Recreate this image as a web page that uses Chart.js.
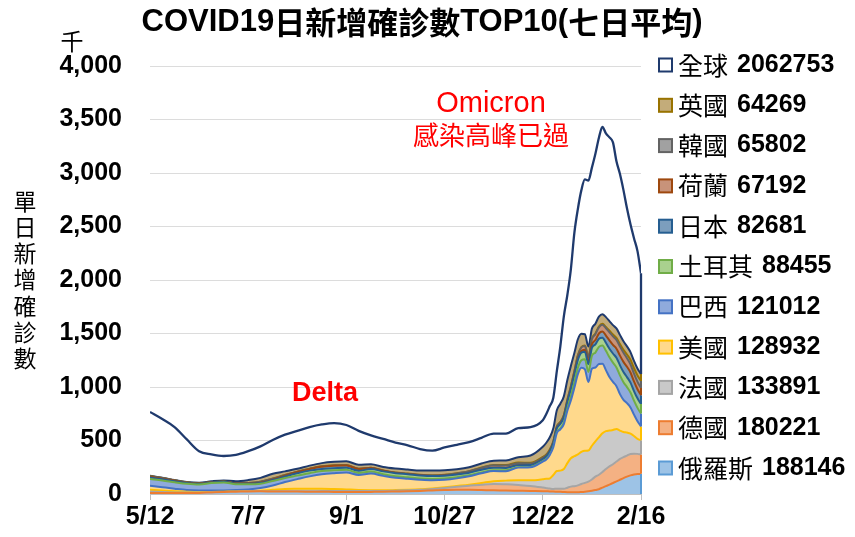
<!DOCTYPE html>
<html>
<head>
<meta charset="utf-8">
<script src="https://cdn.jsdelivr.net/npm/chart.js@4.4.1/dist/chart.umd.min.js"></script>
<style>
html,body{margin:0;padding:0;background:#fff;}
#wrap{width:855px;height:537px;position:relative;}
canvas{display:block;}
</style>
</head>
<body>
<div id="wrap"><canvas id="c" width="855" height="537"></canvas></div>
<script>
// ---------- DATA (thousands, 7-day average) ----------
// day offsets from 5/12/2021
const days = [0,7,14,21,28,35,42,49,56,63,70,77,84,91,98,105,112,119,126,133,140,147,154,161,168,175,182,189,196,203,210,217,224,
  226,228,230,232,234,236,238,240,242,244,246,248,250,252,254,256,258,260,262,264,266,268,270,272,274,276,278,280];
const tickDays = [0,56,112,168,224,280];
const tickLabels = ['5/12','7/7','9/1','10/27','12/22','2/16'];

const russia = [8.5,8.4,8.6,9.0,10.5,14.5,18.5,21,24,25,24,23.5,22.2,21.6,21,19.5,18.5,18,19.5,21,23.5,26,29,33,37,40,39.5,37,34,33,30.5,28,26,
  25,24.5,22.5,21.5,20.5,18.5,16.5,16,16,16.5,19,22,26,31,37,45,60,73,88,103,118,133,148,162,174,182,187,188.1];
const germany = [13,10.5,6.5,4,2.8,1.3,0.7,0.6,0.7,1.0,1.5,2.0,2.6,4.0,6.5,9,10,10.5,8.5,7.5,7.8,8.5,10,14,19,27,38,50,60,57,53,47,34,
  30,26,25,28,28,30,42,53,57,64,75,82,90,105,125,135,145,160,170,175,185,195,197,197,200,195,188,180.2];
const france = [18.5,14,11,8,5,3.5,2.5,2.4,3.0,5,14,22,24,24,22,18,14,10,7.5,6,5,4.5,4.5,5,6.5,8,10,16,25,35,45,53,78,
  88,95,130,165,170,185,230,265,280,290,300,300,290,315,330,350,362,355,335,320,305,265,235,215,190,165,140,133.9];
const usa = [38,31,24,17,14.5,12.5,11.5,12.5,15,25,40,64,90,115,135,148,158,140,155,135,115,103,90,77,70,71,78,90,95,88,118,122,165,
  180,220,260,355,385,420,490,540,640,750,785,760,640,720,690,685,650,570,500,450,400,340,300,275,245,200,165,128.9];
const brazil = [62,63,60,57,55,70,75,55,48,40,42,38,33,30,30,27,25,18,20,16,15,14,11,11,12,11,9,9,9,9,3,3.5,3.5,
  3.5,3.5,4,6,10,15,20,40,50,60,70,95,95,120,140,160,170,180,185,180,175,175,165,150,140,130,125,121];
const turkey = [14,10,8.5,7,6,5.5,5.3,5.2,5.5,7,8.5,14,22,24,20,19,20,21,23,26,28,29,29,28,27,26,25,24,23,22,20,17,20,
  24,28,33,37,40,48,58,65,70,72,72,70,72,75,77,75,73,75,80,85,90,95,95,93,92,90,89,88.5];
const japan = [6.3,6.2,4.7,3.5,2.5,1.6,1.5,1.7,2.0,2.8,4.0,7.5,11,14,20,24,22,15.5,9,5,2.5,1.2,0.65,0.4,0.28,0.24,0.18,0.14,0.1,0.11,0.13,0.16,0.2,
  0.23,0.26,0.35,0.45,0.5,0.8,1.5,3.3,6,10,15,20,25,32,40,50,58,68,78,80,85,90,95,97,95,90,85,82.7];
const netherlands = [6.8,6.5,4.5,3,1.5,0.8,0.6,1.0,3.5,8.5,8.5,5,3,2.4,2.2,2.0,2.0,2.0,1.9,1.7,2.2,2.6,3.5,4.8,6.3,9,12,18,21.5,22,18.5,15,13,
  12.5,12.8,13.5,15,15.5,16,18,21,25,30,33,35,40,47,55,58,63,68,75,80,82,86,85,80,75,72,69,67.2];
const korea = [0.6,0.6,0.6,0.6,0.55,0.5,0.55,0.7,1.2,1.4,1.55,1.55,1.55,1.8,1.9,1.8,1.8,1.8,1.8,2.0,2.5,2.4,1.7,1.4,1.9,2.0,2.3,2.9,3.8,4.5,5.7,6.8,6.6,
  6.0,5.3,5.0,4.8,4.4,4.2,3.9,3.9,3.7,3.6,4.0,4.4,4.7,5.4,6.2,7.7,9.5,12,15,17,19.5,23,28,35,43,52,59,65.8];
const uk = [2.2,2.3,2.7,3.5,6.5,8.5,11,19,27,35,45,34,26,28.5,30,32,34,37,32,32,36,37,40,45,42,37,36,38,40,43,50,67,95,
  110,115,120,150,170,175,185,190,170,150,125,105,95,95,92,92,90,92,90,88,88,85,80,76,72,68,66,64.3];
const world = [766,700,625,510,400,370,355,365,400,445,505,555,590,625,650,663,645,590,548,515,480,455,420,405,435,460,485,525,565,565,615,625,690,
  748,822,900,1148,1380,1660,1860,2100,2440,2664,2840,2940,2930,3050,3180,3330,3430,3370,3333,3286,3110,2990,2840,2670,2520,2390,2270,2063];

// stacking order bottom -> top
const seriesNames = ['俄羅斯','德國','法國','美國','巴西','土耳其','日本','荷蘭','韓國','英國'];
const seriesData = [russia,germany,france,usa,brazil,turkey,japan,netherlands,korea,uk];
const latestValues = [188146,180221,133891,128932,121012,88455,82681,67192,65802,64269];
const worldName = '全球';
const worldLatest = 2062753;

const titleText = 'COVID19日新增確診數TOP10(七日平均)';
const yTitleText = '單日新增確診數';
const unitText = '千';
const notes = [
  {text:'Omicron', x:491, y:104},
  {text:'感染高峰已過', x:491, y:135},
  {text:'Delta', x:325, y:394}
];

// ---------- STYLE ----------
const fills = ['#9DC3E6','#F4B183','#C9C9C9','#FFD98C','#8FAADC','#A9D18E','#7C9EBD','#C8937A','#A1A1A1','#C3AC7A'];
const edges = ['#5B9BD5','#ED7D31','#A5A5A5','#FFC000','#4472C4','#70AD47','#255E91','#9E480E','#636363','#997300'];
const navy = '#1F3A6D';
const LATIN = '"Liberation Sans", Arial, sans-serif';
const CJK = '"Noto Sans CJK TC", "Noto Sans CJK SC", sans-serif';

function isCJK(ch){ return /[\u2E80-\u9FFF\uF900-\uFAFF\uFF00-\uFFEF\u3000-\u303F]/.test(ch); }
function runsOf(text){
  const runs=[];
  for (const ch of text){
    const c=isCJK(ch);
    if (runs.length && runs[runs.length-1].cjk===c) runs[runs.length-1].t+=ch;
    else runs.push({t:ch,cjk:c});
  }
  return runs;
}
function fontFor(r,o){
  return r.cjk ? `${o.cw} ${o.csize||o.size}px ${CJK}` : `${o.lw} ${o.size}px ${LATIN}`;
}
function drawMixed(ctx,text,x,y,o){
  const runs=runsOf(text);
  let total=0;
  runs.forEach(r=>{ctx.font=fontFor(r,o); r.w=ctx.measureText(r.t).width; total+=r.w;});
  let sx = o.align==='center' ? x-total/2 : (o.align==='right' ? x-total : x);
  ctx.fillStyle=o.color; ctx.textBaseline='middle'; ctx.textAlign='left';
  runs.forEach(r=>{ctx.font=fontFor(r,o); ctx.fillText(r.t,sx,y); sx+=r.w;});
  return total;
}

const toXY = arr => arr.map((v,i)=>({x:days[i], y:v}));

const datasets = seriesData.map((arr,k)=>({
  label: seriesNames[k],
  data: toXY(arr),
  fill: k===0 ? 'origin' : '-1',
  backgroundColor: fills[k],
  borderColor: k<seriesData.length-1 ? edges[k+1] : navy,
  borderWidth: 2,
  pointRadius: 0,
  pointHoverRadius: 0,
  cubicInterpolationMode: 'monotone',
  stack: 'top10',
  order: 0
}));
datasets.push({
  label: worldName,
  data: toXY(world),
  fill: 'origin',
  backgroundColor: '#FFFFFF',
  borderColor: navy,
  borderWidth: 2.3,
  pointRadius: 0,
  pointHoverRadius: 0,
  cubicInterpolationMode: 'monotone',
  stack: 'world',
  order: 1
});

const edgePlugin = {
  id:'rightEdges',
  afterDatasetsDraw(chart){
    const ctx=chart.ctx, xs=chart.scales.x, ys=chart.scales.y;
    const last=days.length-1;
    const xe=xs.getPixelForValue(days[last]);
    ctx.save();
    ctx.lineWidth=2;
    let base=0;
    seriesData.forEach((arr,k)=>{
      const top=base+arr[last];
      ctx.strokeStyle=edges[k];
      ctx.beginPath(); ctx.moveTo(xe,ys.getPixelForValue(base)); ctx.lineTo(xe,ys.getPixelForValue(top)); ctx.stroke();
      base=top;
    });
    ctx.strokeStyle=navy; ctx.lineWidth=2.3;
    ctx.beginPath(); ctx.moveTo(xe,ys.getPixelForValue(base)); ctx.lineTo(xe,ys.getPixelForValue(world[last])); ctx.stroke();
    ctx.restore();
  }
};

const textPlugin = {
  id:'texts',
  afterDraw(chart){
    const ctx=chart.ctx;
    ctx.save();
    // title
    drawMixed(ctx,titleText,422,22,{size:31,lw:'bold',cw:'bold',color:'#000',align:'center'});
    // unit
    drawMixed(ctx,unitText,72,41,{size:23,lw:'normal',cw:'normal',color:'#000',align:'center'});
    // vertical y title
    Array.from(yTitleText).forEach((ch,i)=>{
      drawMixed(ctx,ch,25,201+i*26.2,{size:23,lw:'normal',cw:'normal',color:'#000',align:'center'});
    });
    // annotations
    drawMixed(ctx,notes[0].text,notes[0].x,notes[0].y,{size:29,lw:'normal',cw:'normal',color:'#FF0000',align:'center'});
    drawMixed(ctx,notes[1].text,notes[1].x,notes[1].y,{size:26,lw:'normal',cw:'normal',color:'#FF0000',align:'center'});
    drawMixed(ctx,notes[2].text,notes[2].x,notes[2].y,{size:27,lw:'bold',cw:'normal',color:'#FF0000',align:'center'});
    // legend
    const items=[{name:worldName,val:worldLatest,fill:'#FFFFFF',edge:navy}];
    for (let k=seriesNames.length-1;k>=0;k--) items.push({name:seriesNames[k],val:latestValues[k],fill:fills[k],edge:edges[k]});
    items.forEach((it,i)=>{
      const cy=65+i*40.3;
      ctx.fillStyle=it.fill; ctx.fillRect(659,cy-6.5,13,13);
      ctx.strokeStyle=it.edge; ctx.lineWidth=2; ctx.strokeRect(659,cy-6.5,13,13);
      const w=drawMixed(ctx,it.name,678,cy,{size:25,lw:'normal',cw:'normal',color:'#000',align:'left'});
      drawMixed(ctx,String(it.val),678+w+9,cy,{size:25,lw:'bold',cw:'bold',color:'#000',align:'left'});
    });
    ctx.restore();
  }
};

new Chart(document.getElementById('c'),{
  type:'line',
  data:{datasets},
  options:{
    responsive:false,
    animation:false,
    devicePixelRatio:1,
    layout:{padding:{left:0,right:214,top:66,bottom:0}},
    plugins:{legend:{display:false},title:{display:false},tooltip:{enabled:false}},
    elements:{line:{borderJoinStyle:'round'}},
    scales:{
      x:{
        type:'linear', min:0, max:280,
        afterBuildTicks:s=>{ s.ticks=tickDays.map(v=>({value:v})); },
        afterFit:s=>{ s.height=40; },
        grid:{display:true,drawOnChartArea:false,drawTicks:true,tickLength:6,color:'#BFBFBF'},
        border:{display:true,color:'#BFBFBF',width:1},
        ticks:{autoSkip:false,maxRotation:0,padding:2,color:'#000',
          font:{family:LATIN,size:25,weight:'bold'},
          callback:v=>{const i=tickDays.indexOf(v); return i>=0?tickLabels[i]:'';}}
      },
      y:{
        stacked:true, min:0, max:4000,
        afterFit:s=>{ s.width=150; },
        grid:{color:'#DCDCDC',drawTicks:false,lineWidth:1},
        border:{display:false},
        ticks:{stepSize:500,padding:28,color:'#000',
          font:{family:LATIN,size:25,weight:'bold'},
          callback:v=>Number(v).toLocaleString('en-US')}
      }
    }
  },
  plugins:[edgePlugin,textPlugin]
});
</script>
</body>
</html>
